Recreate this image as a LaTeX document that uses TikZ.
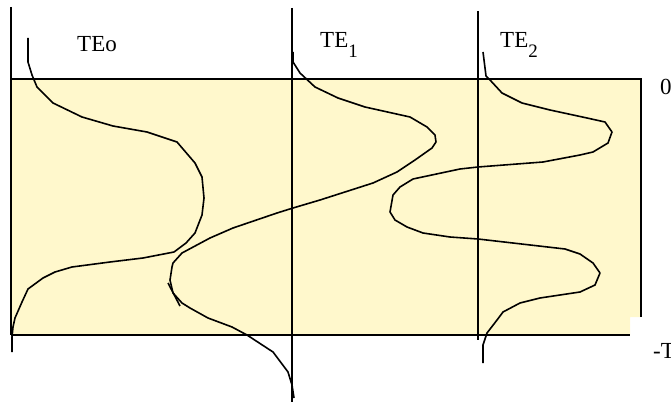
\documentclass[tikz,border=0pt]{standalone}
\usepackage{fontspec}
\setmainfont{Liberation Serif}
\usetikzlibrary{calc, positioning}
\definecolor{paleyellow}{RGB}{255,248,204}
\newcommand{\lowsub}[1]{\raisebox{-0.42em}{\fontsize{19}{20}\selectfont #1}}

\begin{document}
\begin{tikzpicture}[
    x={(1pt,0pt)},
    y={(0pt,-1pt)},
    curve/.style={line width=1.6pt, black, line join=round},
    axis/.style={line width=1.4pt, black},
    lbl/.style={anchor=base west, inner sep=0pt, font=\fontsize{23}{26}\selectfont}
]
\useasboundingbox (0,0) rectangle (671,403);

\coordinate (TL) at (11,79);
\coordinate (TR) at (641,79);
\coordinate (RN) at (641,317);
\coordinate (NC) at (630,317);
\coordinate (NB) at (630,335);
\coordinate (BL) at (11,335);

% Band
\fill[paleyellow] (TL) -- (TR) -- (RN) -- (NC) -- (NB) -- (BL) -- cycle;
\draw[axis] (TL) -- (TR) -- (RN);
\draw[axis] (11,7) -- (BL);
\draw[line width=2.6pt, black] (BL) -- (NB);

% Axes of the three modes
\draw[axis] (292,8) -- (292,402);
\draw[axis] (478,11) -- (478,340);

% TEo
\draw[curve] (28,38) -- (28,62) -- (32,75) -- (37,87) -- (53,103) -- (82,117)
    -- (113,126) -- (147,132) -- (177,142) -- (195,163) -- (202,177) -- (204,198)
    -- (202,215) -- (195,233) -- (186,243) -- (174,252) -- (143,258) -- (110,262)
    -- (72,267) -- (55,272) -- (43,278) -- (28,289) -- (22,302) -- (15,318)
    -- (13,327) -- (12,337) -- (12,352);

% TE1
\draw[curve] (293,52) -- (293,62) -- (300,73) -- (315,87) -- (338,98) -- (365,107)
    -- (410,117) -- (427,127) -- (435,135) -- (436,142) -- (432,148) -- (415,160)
    -- (397,172) -- (373,183) -- (320,200) -- (293,208) -- (277,213) -- (233,228)
    -- (210,238) -- (182,253) -- (173,263) -- (172,267) -- (170,280) -- (173,293)
    -- (182,303) -- (190,308) -- (208,318) -- (232,327) -- (247,335) -- (273,352)
    -- (288,372) -- (292,385) -- (294,398);
\draw[curve] (168,283) -- (180,306);

% TE2
\draw[curve] (483,52) -- (486,76) -- (490,80) -- (502,93) -- (522,103) -- (550,110)
    -- (587,118) -- (605,122) -- (612,132) -- (608,143) -- (593,152) -- (580,155)
    -- (543,162) -- (478,167) -- (460,169) -- (413,179) -- (400,187) -- (393,195)
    -- (390,212) -- (395,220) -- (407,227) -- (423,233) -- (450,237) -- (478,239)
    -- (565,249) -- (580,254) -- (593,263) -- (600,273) -- (595,285) -- (580,292)
    -- (560,295) -- (540,298) -- (520,303) -- (503,312) -- (497,320) -- (487,333)
    -- (483,345) -- (483,363);

% Labels
\node[lbl] (teo) at (77,52) {TEo};
\node[lbl] (teone) at (320,48) {TE\lowsub{1}};
\node[lbl] (tetwo) at (500,48) {TE\lowsub{2}};
\node[lbl] (zero) at (660,95) {0};
\node[lbl] (mint) at (653,358) {-T};
\end{tikzpicture}
\end{document}
